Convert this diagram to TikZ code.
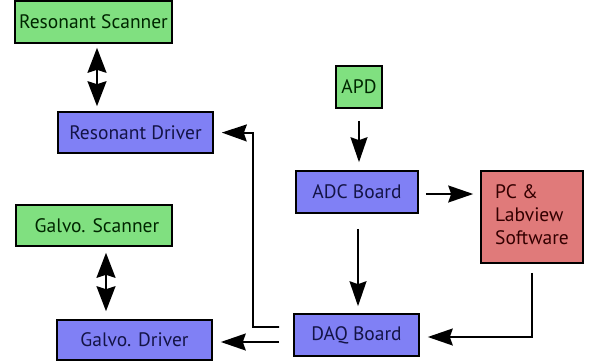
\documentclass[tikz,border=0pt]{standalone}
\usepackage{fontspec}
\setmainfont{PT Sans}
\usetikzlibrary{arrows.meta}
\definecolor{gbox}{RGB}{128,224,128}
\definecolor{bbox}{RGB}{128,128,245}
\definecolor{rbox}{RGB}{224,122,122}
\definecolor{navy}{RGB}{20,20,70}
\tikzset{
  box/.style={draw=black, line width=1.6pt, inner sep=0pt, font=\fontsize{19.5}{23}\selectfont},
  gb/.style={box, fill=gbox, text=black!85!green},
  bb/.style={box, fill=bbox, text=navy},
  rb/.style={box, fill=rbox, text=black!80!red},
  arr/.style={line width=1.8pt, -{Stealth[length=25pt,width=17pt,inset=3pt]}},
  dbl/.style={line width=1.8pt, {Stealth[length=25pt,width=19pt,inset=3pt]}-{Stealth[length=25pt,width=19pt,inset=3pt]}},
}
\begin{document}
\begin{tikzpicture}[x=1pt,y=-1pt]
\useasboundingbox (0,0) rectangle (589,364);
\fill[white] (0,0) rectangle (589,364);
\node[gb, minimum width=157pt, minimum height=42pt] (RS) at (93.5,22) {Resonant Scanner};
\node[bb, minimum width=155pt, minimum height=41pt] (RD) at (135.5,132.5) {Resonant Driver};
\node[gb, minimum width=46pt, minimum height=42pt] (APD) at (359,87) {APD};
\node[bb, minimum width=122pt, minimum height=42pt] (ADC) at (357,192) {ADC Board};
\node[rb, minimum width=102pt, minimum height=92pt, align=left] (PC) at (532,217) {\begin{tabular}{@{}l@{}}PC \&\\Labview\\Software\end{tabular}};
\node[gb, minimum width=156pt, minimum height=41pt] (GS) at (94,225.5) {\hspace{6pt}Galvo. Scanner};
\node[bb, minimum width=155pt, minimum height=40pt] (GD) at (134.5,340) {Galvo. Driver};
\node[bb, minimum width=125pt, minimum height=42pt] (DAQ) at (356.5,335) {DAQ Board};
\coordinate (bend) at (253,133);

\draw[dbl, shorten <=4pt, shorten >=5pt] ([xshift=3.5pt]RS.south) -- ([xshift=3.5pt]RS.south |- RD.north);
\draw[dbl, shorten <=6pt, shorten >=8pt] ([xshift=12pt]GS.south) -- ([xshift=12pt]GS.south |- GD.north);
\draw[arr, shorten <=12pt, shorten >=8pt] (APD.south) -- (APD.south |- ADC.north);
\draw[arr, shorten <=7pt, shorten >=7pt] ([yshift=-2pt]ADC.east) -- ([yshift=-2pt]ADC.east -| PC.west);
\draw[arr, shorten <=15pt, shorten >=7pt] ([xshift=1pt]ADC.south) -- ([xshift=1pt]ADC.south |- DAQ.north);
\draw[arr, shorten <=9pt, shorten >=8pt] (PC.south) |- ([yshift=-2pt]DAQ.east);
\draw[arr, shorten <=14pt, shorten >=8pt] ([yshift=-7pt]DAQ.west) -- ([yshift=-7pt]DAQ.west -| GD.east);
\draw[arr, shorten <=14pt, shorten >=8pt] ([yshift=8pt]DAQ.west) -| (bend) -- (RD.east);
\end{tikzpicture}
\end{document}
